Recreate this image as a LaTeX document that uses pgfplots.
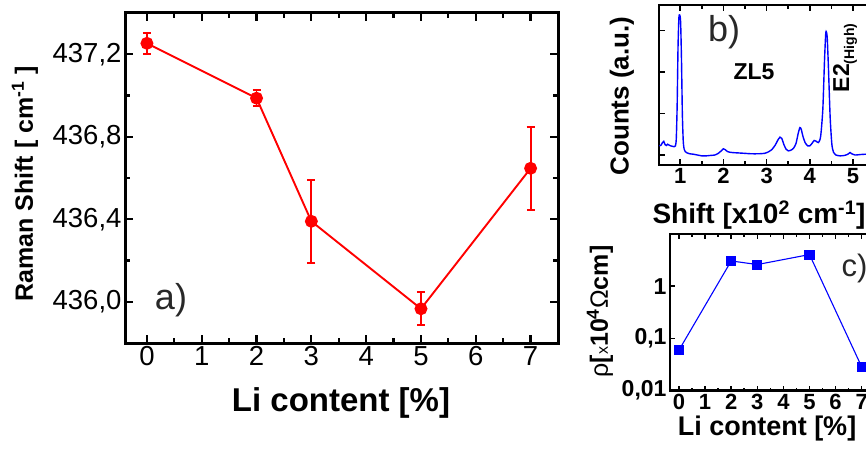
\documentclass[border=0pt]{standalone}
\usepackage{fontspec}
\setmainfont{Liberation Sans}
\usepackage{pgfplots}
\pgfplotsset{compat=1.18}
\definecolor{dgray}{RGB}{40,40,40}
\begin{document}
\begin{tikzpicture}[x=1pt,y=1pt]
% ---------------- panel a ----------------
\begin{axis}[
  at={(125pt,107pt)}, anchor=south west,
  width=433pt, height=330pt, scale only axis,
  xmin=-0.4, xmax=7.5, ymin=435.8, ymax=437.4,
  xtick={0,...,7}, minor x tick num=1,
  ytick={436,436.4,436.8,437.2}, minor y tick num=1,
  yticklabels={{436,0},{436,4},{436,8},{437,2}},
  tick align=inside,
  major tick length=8pt, minor tick length=5pt,
  every tick/.style={black, line width=2.2pt},
  axis line style={line width=3pt},
  ticklabel style={font=\fontsize{27.5}{30}\selectfont},
  /pgf/number format/assume math mode=true,
]
\addplot[red, line width=1.9pt, mark=*, mark size=5.5pt, mark options={solid, fill=red},
  error bars/.cd, y dir=both, y explicit,
  error bar style={line width=1.9pt, red},
  error mark options={rotate=90, mark size=4pt, line width=1.9pt, red}]
coordinates {
(0,437.253) +- (0,0.051)
(2,436.987) +- (0,0.039)
(3,436.390) +- (0,0.200)
(5,435.966) +- (0,0.080)
(7,436.647) +- (0,0.200)
};
\end{axis}
\node[rotate=90, font=\fontsize{25}{28}\selectfont\bfseries] at (25,266) {Raman Shift [ cm\textsuperscript{-1} ]};
\node[font=\fontsize{33}{36}\selectfont\bfseries] at (341,47) {Li content [\%]};
\node[font=\fontsize{36}{38}\selectfont, text=dgray] at (171,150) {a)};
% ---------------- panel b ----------------
\begin{axis}[
  at={(659pt,285pt)}, anchor=south west,
  width=220pt, height=160pt, scale only axis,
  xmin=0.51, xmax=5.6, ymin=-0.24, ymax=3.61,
  xtick={1,...,5}, minor x tick num=1,
  ytick={0,1,2,3}, yticklabels={},
  tick align=inside,
  major tick length=6pt, minor tick length=4pt,
  every tick/.style={black, line width=1.6pt},
  axis line style={line width=2.5pt},
  xticklabel style={font=\fontsize{22}{24}\selectfont\bfseries},
  /pgf/number format/assume math mode=true,
]
\addplot[blue, line width=1.4pt, smooth, tension=0.4] coordinates {
(0.52,0.22) (0.56,0.24) (0.59,0.30) (0.62,0.33) (0.65,0.25) (0.68,0.23)
(0.71,0.26) (0.74,0.24) (0.78,0.22) (0.82,0.21) (0.86,0.20) (0.89,0.22)
(0.91,0.40) (0.93,1.20) (0.95,2.60) (0.97,3.30) (0.99,3.37) (1.01,3.20)
(1.03,2.30) (1.05,1.00) (1.07,0.35) (1.09,0.15) (1.12,0.08) (1.16,0.05)
(1.22,0.03) (1.30,0.02) (1.40,0.00) (1.50,-0.02) (1.60,-0.02) (1.70,-0.01)
(1.80,0.00) (1.88,0.04) (1.95,0.10) (2.00,0.15) (2.04,0.13) (2.10,0.08)
(2.20,0.06) (2.35,0.05) (2.50,0.04) (2.65,0.03) (2.80,0.03) (2.95,0.04)
(3.05,0.08) (3.12,0.13) (3.20,0.24) (3.26,0.36) (3.31,0.43) (3.35,0.40)
(3.40,0.25) (3.45,0.14) (3.50,0.10) (3.55,0.11) (3.62,0.16) (3.68,0.28)
(3.73,0.52) (3.77,0.66) (3.80,0.62) (3.84,0.45) (3.89,0.30) (3.95,0.22)
(4.00,0.22) (4.05,0.28) (4.10,0.35) (4.15,0.33) (4.20,0.30) (4.25,0.45)
(4.30,1.10) (4.34,2.30) (4.37,2.95) (4.40,2.85) (4.43,2.10) (4.47,0.90)
(4.51,0.25) (4.55,0.06) (4.60,0.00) (4.70,-0.02) (4.80,-0.01) (4.88,0.02)
(4.93,0.06) (4.97,0.03) (5.05,0.00) (5.15,0.01) (5.30,0.02) (5.50,0.02)
(5.60,0.02)
};
\end{axis}
\node[rotate=90, font=\fontsize{26}{28}\selectfont\bfseries] at (622,354) {Counts (a.u.)};
\node[font=\fontsize{28}{30}\selectfont\bfseries] at (759,235) {Shift [x10\textsuperscript{2} cm\textsuperscript{-1}]};
\node[font=\fontsize{36}{38}\selectfont, text=dgray] at (724,418) {b)};
\node[font=\fontsize{23}{26}\selectfont\bfseries] at (754,378) {ZL5};
\node[rotate=90, font=\bfseries, anchor=center] at (845,392)
  {{\fontsize{23}{26}\selectfont E2}\raisebox{-5pt}{\fontsize{14}{16}\selectfont (High)}};
% ---------------- panel c ----------------
\begin{axis}[
  at={(670pt,59.3pt)}, anchor=south west,
  width=200.8pt, height=156.7pt, scale only axis,
  ymode=log,
  xmin=-0.345, xmax=7.35, ymin=0.01, ymax=10,
  xtick={0,...,7}, minor x tick num=1,
  ytick={0.01,0.1,1}, yticklabels={{0,01},{0,1},{1}},
  yminorticks=false,
  tick align=inside,
  major tick length=5pt, minor tick length=3pt,
  every tick/.style={black, line width=1.6pt},
  axis line style={line width=2.5pt},
  xticklabel style={font=\fontsize{22}{24}\selectfont\bfseries},
  yticklabel style={font=\fontsize{23}{24}\selectfont\bfseries},
  /pgf/number format/assume math mode=true,
]
\addplot[blue, line width=1.1pt, mark=square*, mark size=4.5pt, mark options={solid, fill=blue}]
coordinates {
(0,0.060)
(2,3.05)
(3,2.60)
(5,4.04)
(7,0.0286)
};
\end{axis}
\node[rotate=90, font=\fontsize{25}{26}\selectfont] at (600,138.5)
  {ρ\textbf{[}{\fontsize{16}{18}\selectfont x}\textbf{10\textsuperscript{4}}Ω\textbf{cm]}};
\node[font=\fontsize{27}{30}\selectfont\bfseries] at (767,21) {Li content [\%]};
\node[font=\fontsize{31}{33}\selectfont, text=dgray, anchor=west] at (838,182) {c)};
\pgfresetboundingbox
\useasboundingbox (0,0) rectangle (866,450);
\end{tikzpicture}
\end{document}
